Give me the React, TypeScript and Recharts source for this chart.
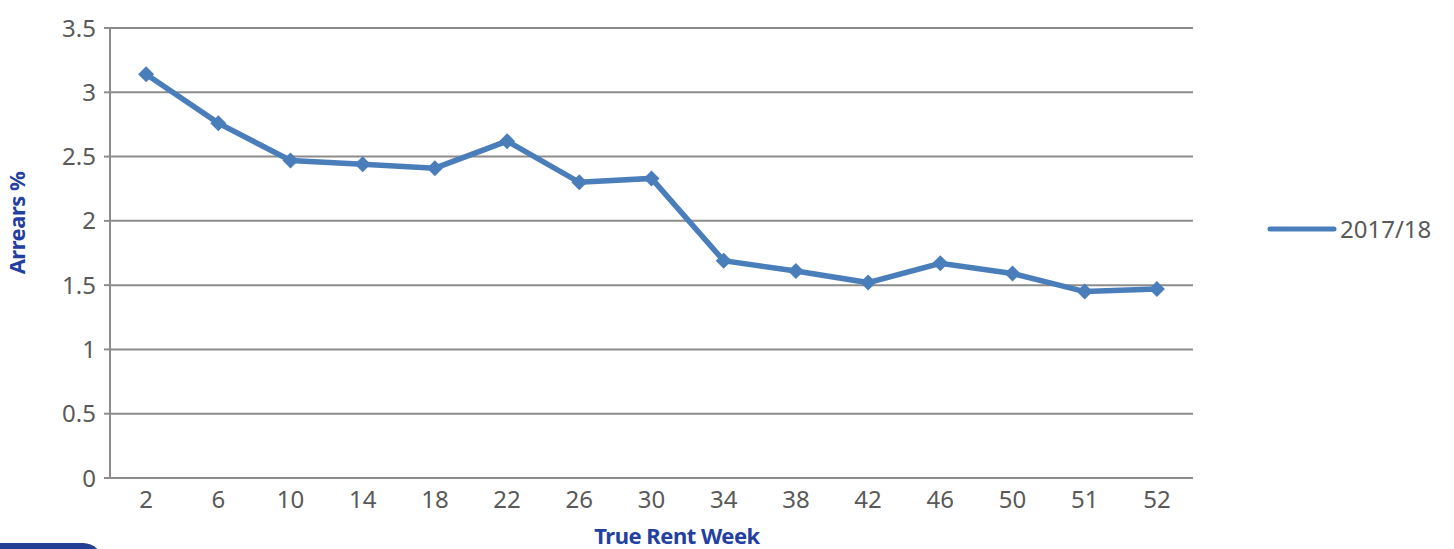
import { LineChart, Line, XAxis, YAxis, CartesianGrid, Legend } from "recharts";

// True Rent Week vs arrears %
const weeks = ["2", "6", "10", "14", "18", "22", "26", "30", "34", "38", "42", "46", "50", "51", "52"];
const arrears201718 = [3.14, 2.76, 2.47, 2.44, 2.41, 2.62, 2.3, 2.33, 1.69, 1.61, 1.52, 1.67, 1.59, 1.45, 1.47];
const yTicks = [0, 0.5, 1, 1.5, 2, 2.5, 3, 3.5];
const seriesName = "2017/18";

const LINE_COLOR = "#4a7ebb";
const GRID_COLOR = "#8c8c8c";
const TEXT_GRAY = "#595959";
const TITLE_BLUE = "#2340a0";
const FONT = "'Noto Sans', sans-serif";

const data = weeks.map((week, i) => ({
  week,
  pos: i + 0.5,
  value: arrears201718[i],
}));

// tick marks sit between categories, labels at category centres
const boundaryTicks = weeks.map((_, i) => i).concat(weeks.length);
const centreTicks = weeks.map((_, i) => i + 0.5);

function Diamond(props: any) {
  const { cx, cy, index } = props;
  if (cx == null || cy == null) return null;
  const r = 8;
  return (
    <path
      key={`d-${index}`}
      d={`M${cx},${cy - r} L${cx + r},${cy} L${cx},${cy + r} L${cx - r},${cy} Z`}
      fill={LINE_COLOR}
    />
  );
}

function LegendBox() {
  return (
    <div style={{ display: "flex", alignItems: "center", fontFamily: FONT }}>
      <svg width={74} height={10}>
        <line x1={4} y1={5} x2={68} y2={5} stroke={LINE_COLOR} strokeWidth={5} strokeLinecap="round" />
      </svg>
      <span style={{ fontSize: 24, color: TEXT_GRAY, lineHeight: "30px" }}>{seriesName}</span>
    </div>
  );
}

export default function App() {
  return (
    <div style={{ position: "absolute", left: 0, top: 0, width: 1454, height: 549, background: "#fff", overflow: "hidden" }}>
      <LineChart
        width={1454}
        height={549}
        data={data}
        margin={{ top: 28, right: 261, bottom: 25, left: 0 }}
      >
        <CartesianGrid
          xAxisId="a-ticks"
          horizontal
          vertical={false}
          stroke={GRID_COLOR}
          strokeWidth={2}
        />
        <XAxis
          xAxisId="a-ticks"
          type="number"
          dataKey="pos"
          domain={[0, weeks.length]}
          ticks={boundaryTicks}
          interval={0}
          tick={false}
          tickSize={6}
          height={6}
          stroke={GRID_COLOR}
          strokeWidth={2}
          allowDataOverflow
        />
        <XAxis
          xAxisId="b-labels"
          type="number"
          dataKey="pos"
          domain={[0, weeks.length]}
          ticks={centreTicks}
          interval={0}
          axisLine={false}
          tickLine={false}
          tickSize={0}
          tickMargin={7}
          height={40}
          tickFormatter={(v: number) => weeks[Math.floor(v)] ?? ""}
          tick={{ fill: TEXT_GRAY, fontSize: 24, fontFamily: FONT }}
          allowDataOverflow
          label={{
            content: () => (
              <text
                x={677}
                y={544}
                textAnchor="middle"
                fill={TITLE_BLUE}
                fontFamily={FONT}
                fontWeight={700}
                fontSize={22}
                letterSpacing={-0.5}
              >
                True Rent Week
              </text>
            ),
          }}
        />
        <YAxis
          domain={[0, 3.5]}
          ticks={yTicks}
          interval={0}
          width={110}
          tickSize={6}
          tickMargin={8}
          stroke={GRID_COLOR}
          strokeWidth={2}
          tick={{ fill: TEXT_GRAY, fontSize: 24, fontFamily: FONT }}
          label={{
            content: () => (
              <text
                x={25}
                y={223}
                transform="rotate(-90 25 223)"
                textAnchor="middle"
                fill={TITLE_BLUE}
                fontFamily={FONT}
                fontWeight={700}
                fontSize={22}
                letterSpacing={-0.5}
              >
                Arrears %
              </text>
            ),
          }}
        />
        <Legend
          content={() => <LegendBox />}
          wrapperStyle={{ position: "absolute", left: 1266, top: 214, width: 180, height: 0 }}
        />
        <Line
          xAxisId="a-ticks"
          type="linear"
          dataKey="value"
          name={seriesName}
          stroke={LINE_COLOR}
          strokeWidth={5.5}
          dot={Diamond}
          activeDot={false}
          isAnimationActive={false}
        />
      </LineChart>
      <div
        style={{
          position: "absolute",
          left: 0,
          top: 543,
          width: 103,
          height: 20,
          background: "#233f94",
          borderTopRightRadius: 22,
        }}
      />
    </div>
  );
}
